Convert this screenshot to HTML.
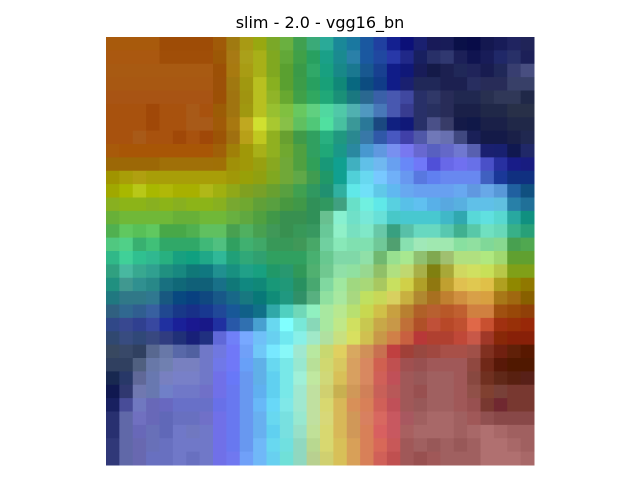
<!DOCTYPE html>
<html><head><meta charset="utf-8"><style>
html,body{margin:0;padding:0;background:#fff;width:640px;height:480px;overflow:hidden}
</style></head><body>
<svg id="chart" width="640" height="480" xmlns="http://www.w3.org/2000/svg">
<text x="320" y="28" text-anchor="middle" font-family="DejaVu Sans, Liberation Sans, sans-serif" font-size="16" fill="#000">slim - 2.0 - vgg16_bn</text>
<g id="cells"></g>
</svg>
<script>
const rows = [
"a85a0c a85a0c a85a0c a85a0c 9e4c06 9e4c06 9e4c06 9e4c06 a05a08 a07a10 a89a14 98a810 7aa828 6ab040 40a050 3aaa78 2aaa98 1a8898 1a78a0 1a58a0 2040a0 142090 0c1078 1a2070 181a58 181c58 0a1048 080c48 141850 181c58 202460 202458",
"aa5810 aa5810 aa5810 aa5810 a04e08 a04e08 a04e08 a04e08 9c5806 a87a14 aaa01a a8b018 80a820 62a838 40a048 28a060 1aa088 1a8a90 2a80a8 1a58a0 2048a0 2838a8 202888 182060 283068 303870 1c2058 101450 181c58 202868 283068 1c2058",
"a85a12 a85a12 a85a12 a85a12 a85a12 a85a12 a85a12 a85a12 9c5006 a87a10 a89c14 a8b018 80a820 5aa030 3a9a48 30a868 18a080 188888 1a7890 185890 184090 101c88 101878 181c58 141a48 1c2050 202858 20245a 181c50 202858 383e70 484e80",
"a85812 a85812 a85812 a85812 a85812 a85812 a85812 a85812 9c5008 a07810 a09810 b8c020 88b020 5aa030 3c9c48 28a060 18a078 108878 086880 0c4c80 103c88 101c88 1a2070 202858 202858 1c2050 1c2050 282e60 282c58 282c58 384068 384068",
"a85414 a85414 a85414 a85414 a85414 a85414 a85414 a85414 9c5006 a07410 a09410 b8c020 90b428 68a830 40a048 30a860 20a878 1a9078 1a7880 2a6890 3a60a8 4858b0 4048a0 283068 303868 282c58 202850 202850 283050 303858 303858 202848",
"a8520e a8520e a8520e a04808 a8520e a8520e a85a18 a8520e 9c5c06 a07410 a09810 b8c020 98c030 80c040 68c860 60d080 50d8a0 50c8a8 50b0b0 5098c0 4878b8 4858b0 383c90 283068 283060 282c58 1a2048 1a2048 202848 202848 283048 283048",
"a8520e a8520e a8520e a04808 a8520e a8520e a85a18 a85a18 a05a08 a87810 c0a820 d0e030 a8c830 88c048 60c060 50c878 50e0a0 48c0a0 3a9898 2a7898 1a4880 102080 101878 283068 4a5088 383c68 141a48 101848 1a2048 1a2048 202848 202848",
"a8520e a8520e a85a18 a8520e a8520e a04808 a8520e a04808 9c5406 a07010 b8a018 c0c820 90b020 68a030 409a48 30a060 28b080 209880 2a8890 3878a8 3058a8 4858c0 4040a8 5058a8 7078b8 6870b0 404880 1a2058 141a48 141a48 1a2048 202850",
"a85a0a a85606 a85606 a85606 a85606 a85606 a85606 a85606 a06008 a08008 a09808 a8b018 90b020 70a830 50a040 30a060 20a878 1a9888 2a88a0 4898d0 6098e0 7890f0 7878f0 6868d0 5860c0 6468c8 7078d0 5860b0 1a2070 182070 101850 202868",
"9c6806 9c6806 9c6806 9c6806 a07008 a07008 a07008 a07008 a07006 a09008 a09808 98a010 88a820 70a838 50a040 30a058 189878 10a090 40b0c0 60c0e8 70b8f0 68a0f0 6888f8 7078f8 5050d8 6868e8 7070f0 6870e8 4a50c8 2830a0 181c88 181c80",
"a09400 a89e08 b0a010 a89e08 a89e08 a89e08 a89e08 a89e08 a89e08 a09808 98a008 90a010 80a820 70a838 60a848 409c50 209868 10a090 50d0d8 68d8f0 78c8ff 70b0f8 6898f0 5878e0 6080f0 6888f0 6888f0 6888f0 4060c0 1a3898 103080 103080",
"a0a800 a8b800 b8c818 a8b800 b0b808 a8b000 a8b000 b0b818 a0b010 90a818 80a020 78a028 68a030 58a040 40a050 309860 209070 30b0a0 60e8e8 70e0f8 60c8e8 60b8f0 68a8f0 68a0f0 68a0f0 68a0f0 68a8f0 6098e0 68a8e8 5898d8 2060a0 105080",
"88b020 8cb418 8cb418 88b020 8cb418 88b020 8cb418 8cb418 88b020 78a830 70a830 60a038 58a040 489840 409848 309058 309860 40a080 68e0c8 70f0e0 60e8e8 58d0e0 58c0e8 60c0f0 58b0e8 58a8e0 58b0e0 60c0e8 60c0e8 60c0e0 2880a8 207098",
"68b038 70b838 70b838 70b838 70b838 68b038 68b038 70b838 70b838 68b040 60a840 50a040 409848 389050 389050 309058 68c090 88f0d0 70e0c8 78e8d8 68e0d8 48c8c8 48c8d0 48c8d0 48c8d0 40b8c8 30a8b0 58d8d8 60e0e0 58d8d0 28a8a0 109080",
"50b050 60c860 58c058 60c860 48a848 48a848 50b050 60c060 60c060 48a050 50b060 48a050 409858 389050 389858 389860 68c898 90f0c8 78e0c0 80e8c8 68c8a8 38a080 58c0a8 68d8c0 68d8c0 58c8b0 40b090 58c8a8 70e0c0 68d8b8 38b088 28a078",
"50c880 50d088 38b070 40c078 30a868 30a868 30a868 40b878 50c080 30a060 40b070 40a868 389858 389858 409858 48a868 70d0a0 88e8b8 80e0b0 80e0b0 70c898 50a070 88e0b0 a0e8b8 a0e8b0 a0e8b0 88e0a0 90e0a0 80d898 88d890 48a050 50a850",
"30b888 40d098 30c090 30b890 28b080 18a080 10a080 20a888 30b898 20a078 30a878 30a070 30a060 30a060 30a060 48b070 68c890 80d8a8 80d8a8 90e0a8 70b870 98e090 a8e890 90c070 80a850 a0c070 b0e080 b0e080 b0e880 a0d870 60a030 60a030",
"30a080 48b8a0 38a890 30a090 209080 188880 107878 107880 209090 189080 20a088 18a080 209868 289870 309858 50b070 70c890 90e0a8 90e0a0 98d890 90c068 b0e080 c0d870 a8b048 808010 a8a838 d0d860 d0e060 c8e058 b8c848 80a018 80a018",
"209080 409890 309090 288888 187080 106878 106078 106078 187088 107878 108880 108878 189878 209878 289060 48a870 80d8a0 a0e8a0 a0d880 a8d878 a8c860 c8e060 d0d048 b0a028 907810 c0a030 e0c050 e0c850 e0c048 b0a020 908800 907800",
"207880 307888 307888 307890 185880 084880 084080 104880 185888 186888 187880 087878 108c78 209880 309068 58b080 90e0a0 a8e8a0 a8d880 c0e060 c8d858 d8d060 c8b040 b08830 a87020 c08030 d09040 d8a048 d8a040 a87818 a06810 886000",
"306080 306890 305e90 3860a0 204890 183888 183088 183890 204898 185898 106088 107088 30a8a8 50d0c0 70d8b8 90f0c0 a8e8a0 b8e890 b8e070 c8d850 d0c048 c8a040 b88030 b06028 b86030 b85828 c06030 d08040 d08040 a05010 984808 904008",
"304888 384890 304090 3848a0 2030a0 1a2098 1a1890 181888 2030a0 2858a8 3070b0 48a0d0 68d8f0 80ffff 78e8d8 88d8b8 a8e8a0 c0e888 d0e060 c8c850 c8a848 c89848 c07038 b05028 c05038 b84828 c05030 e06848 c85030 a03010 983008 982808",
"304870 384c80 304878 384880 303c80 203078 182078 203080 6068d8 7080f8 78a8ff 70c0f8 68d0f0 70e8f0 88f0e8 a0e8c8 b0e0a0 c8e080 d8e060 d0c050 c89848 d08048 c86040 b83838 b04030 b04030 c04838 c85848 a03828 882808 882008 882008",
"384860 384868 304060 586890 6878a8 5868a8 5060a0 7078c8 7078e0 7078f8 70a0f8 70c8f8 78e8ff 88f8f8 a0e8d0 b8e8a0 c8d870 e0d060 d8a860 d09058 c87050 c04040 a04038 984840 a04840 a85048 a85048 a05048 803020 702010 602008 581800",
"304060 304060 506080 6878a8 7080b0 7880c0 7880c0 7078c8 7078e8 7078f8 68a0f8 60b0e8 68d8f0 78e8e8 98e8d0 b8e098 d0d870 d8c860 d8a060 d88860 d06050 c05050 a05050 985050 a05858 a05858 a05858 904840 702818 581808 501800 501800",
"182850 283868 606898 6878b0 7880c0 7880c8 7880c8 7078c8 7070e8 6878f8 6898f0 60b0e8 60d0f0 78e8e8 a0f0d8 c0e8a0 d0d878 d8c058 d8a060 d88860 d06058 c05058 a05858 985858 a06060 a06060 a05858 884840 703020 602818 582010 582018",
"101850 303870 7078b0 6878b0 7080c8 7078c8 7078c8 7070c8 7070e8 6878f0 6898f0 60b0f0 60d0f0 78e8e8 a0e8d0 c0e0a0 d0d070 c8b050 d09858 d08058 c86058 b85858 a05858 985050 a06060 a06060 a05858 905048 804030 784038 783830 783830",
"182060 484c98 7078c0 6868b8 6868c0 6870c8 6870c8 6870c8 6870e8 6878f0 6898f0 68b8f8 68d8f8 80e8e8 a0e8d0 c0e0a0 d8d870 d8b858 d89058 d88058 d06058 c05058 a05858 985858 a06060 a06060 a05858 985050 783830 702830 783830 783830",
"283070 6068a8 7070c0 6868b8 6068b8 6870c0 6870c0 7070c8 7070e8 6878f0 6898f0 68b0f0 68d8f0 78e0e0 98e8d0 c0e0a0 d8d878 d8b858 d09858 d88060 d86860 c85860 a85860 a06060 a86868 a86868 a06060 a05858 905050 884848 884848 884848",
"283070 6068a8 6868b8 6870b8 6068b8 7078c8 7078c0 7078c8 7070e8 6878f0 6898f0 68b0f0 60d0f0 78e0e0 98e0c8 c0e098 d8d870 d8b858 d09858 d88058 d86060 c85860 a86060 a86868 a86868 a86868 a06060 a86868 b07070 a86868 a06060 a06060",
"303878 6068a8 6868b0 6870b8 6870c0 7078c8 7078c8 7078c8 7070e8 6878f0 6898f0 70b8f8 68d8f0 70e0e0 90d8c0 b8d890 d8d870 d8c058 d8a058 d88058 d86858 c85858 a05858 a06060 985858 a06060 985858 a06060 b07070 b07070 a86868 a06060",
"303878 6068a8 6868b0 6870c0 6870c0 7078c8 6870c0 7078c8 7070e8 7078f0 70a0f8 70b8f8 68d0f0 70e0d8 90d8c0 b8d090 d0d070 d8c058 d8a058 d88058 d06058 c05050 a05858 985050 a05858 a06060 a06060 a06060 b07070 b07070 b07070 a86868"
];
const x0 = 106, y0 = 37, size = 428;
const nR = rows.length;
const g = document.getElementById('cells');
const NS = 'http://www.w3.org/2000/svg';
rows.forEach((row, r) => {
  const cols = row.split(' ');
  const cw = size / cols.length, ch = size / nR;
  cols.forEach((c, k) => {
    const rect = document.createElementNS(NS, 'rect');
    
    
    rect.setAttribute('x', (x0 + k * cw).toFixed(3));
    rect.setAttribute('y', (y0 + r * ch).toFixed(3));
    rect.setAttribute('width', (cw + 0.5).toFixed(3));
    rect.setAttribute('height', (ch + 0.5).toFixed(3));
    rect.setAttribute('fill', '#' + c);
    g.appendChild(rect);
  });
});
</script>
</body></html>
